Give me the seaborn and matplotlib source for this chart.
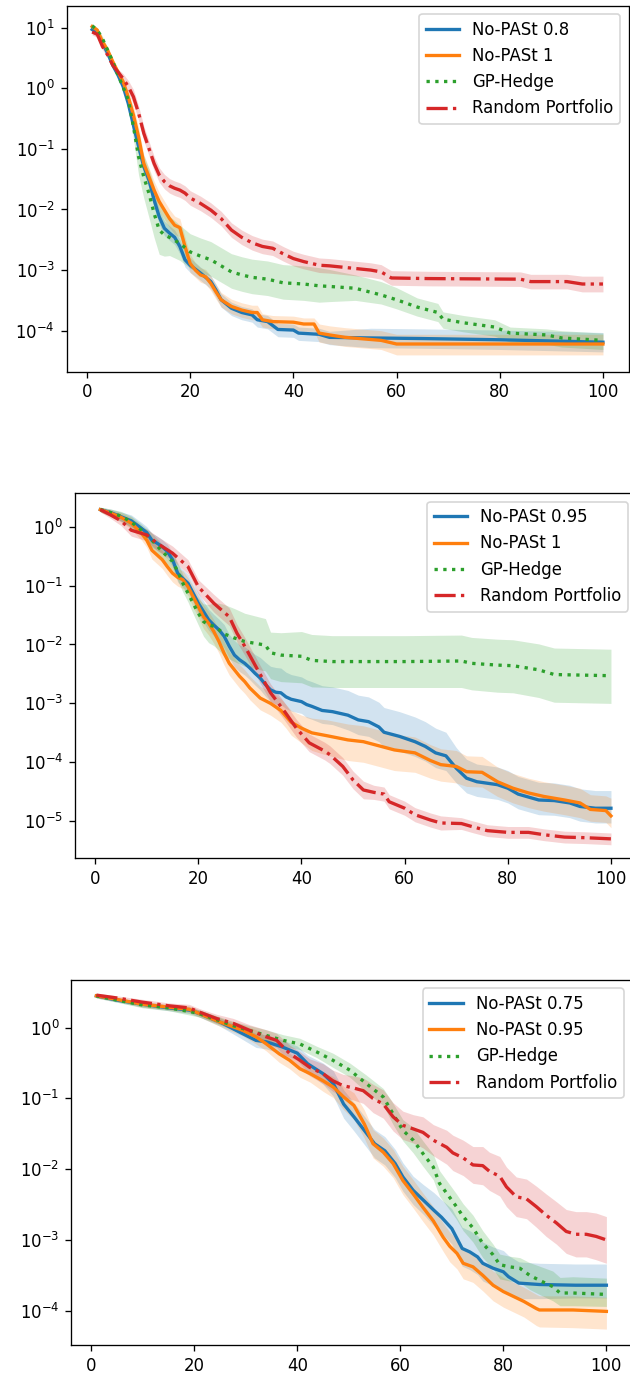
import numpy as np
import matplotlib
matplotlib.use("Agg")
import matplotlib.pyplot as plt
import seaborn as sns
from matplotlib.ticker import NullLocator

# ---------------- data (log10 of the metric) -------------
# Panel 1
p1_blue_x = [1,2,3,4,5,6,7,8,9,10, 11,12,13,14,15,16,17,18,19,20,
             22,24,25,26,28,30,32,33,35,37, 40,41,45,47, 55,65,80,90,100]
p1_blue_y = [0.97,0.91,0.74,0.58,0.38,0.22,0.03,-0.25,-0.61,-0.96,
             -1.29,-1.51,-1.84,-2.12,-2.31,-2.39,-2.46,-2.61,-2.83,-2.92,
             -3.05,-3.19,-3.33,-3.49,-3.63,-3.70,-3.74,-3.82,-3.85,-3.98,
             -3.99,-4.04,-4.06,-4.11, -4.12,-4.13,-4.15,-4.17,-4.19]
p1_blue_dn = [0.04,0.04,0.04,0.04,0.04,0.04,0.04,0.04,0.12,0.12,
              0.12,0.12,0.12,0.12,0.12,0.12,0.12,0.12,0.12,0.12,
              0.12,0.12,0.12,0.12,0.12,0.12,0.12,0.12,0.12,0.12,
              0.12,0.12,0.12,0.12, 0.16,0.16,0.16,0.16,0.16]
p1_blue_up = [0.04,0.04,0.04,0.04,0.04,0.04,0.04,0.04,0.12,0.12,
              0.12,0.12,0.12,0.12,0.12,0.12,0.12,0.12,0.12,0.12,
              0.10,0.10,0.10,0.10,0.10,0.10,0.10,0.10,0.10,0.10,
              0.10,0.10,0.10,0.10, 0.16,0.16,0.16,0.16,0.16]

p1_orange_x = [1,2,3,4,5,6,7,8,9,10, 11,12,13,14,15,16,17,18,19,20,
               21,22,23,24,25,26,28,30,32,33, 34,36,40,42,44,45,47,50,57,60,
               80,100]
p1_orange_y = [1.02,0.96,0.77,0.63,0.44,0.27,0.11,-0.14,-0.44,-0.80,
               -1.24,-1.46,-1.68,-1.87,-2.01,-2.15,-2.26,-2.30,-2.61,-2.89,
               -3.00,-3.08,-3.11,-3.22,-3.36,-3.49,-3.60,-3.66,-3.70,-3.70,
               -3.82,-3.85,-3.86,-3.89,-3.89,-4.04,-4.07,-4.11,-4.16,-4.22,
               -4.22,-4.22]
p1_orange_dn = [0.04,0.04,0.04,0.04,0.04,0.04,0.04,0.04,0.15,0.15,
                0.15,0.15,0.15,0.15,0.15,0.15,0.15,0.15,0.15,0.15,
                0.12,0.12,0.12,0.12,0.12,0.12,0.12,0.12,0.12,0.12,
                0.12,0.12,0.12,0.12,0.12,0.15,0.15,0.15,0.15,0.18,
                0.18,0.18]
p1_orange_up = [0.04,0.04,0.04,0.04,0.04,0.04,0.04,0.04,0.15,0.15,
                0.15,0.15,0.15,0.15,0.15,0.15,0.15,0.15,0.15,0.15,
                0.12,0.12,0.12,0.12,0.12,0.12,0.12,0.12,0.12,0.12,
                0.10,0.10,0.10,0.10,0.10,0.15,0.15,0.16,0.16,0.16,
                0.16,0.16]

p1_green_x = [1,2,3,4,5,6,7,8,9,10, 11,12,13,14,15,16,18,20,22,24,
              26,28,30,32,35,38,40,42,45,47, 52,57,60,64,68,69,73,79,82,89,
              92,100]
p1_green_y = [1.03,0.96,0.82,0.63,0.44,0.22,0.02,-0.19,-0.63,-1.13,
              -1.46,-1.73,-2.06,-2.34,-2.42,-2.46,-2.56,-2.70,-2.77,-2.83,
              -2.93,-3.03,-3.08,-3.12,-3.15,-3.21,-3.22,-3.23,-3.26,-3.27,
              -3.30,-3.41,-3.49,-3.61,-3.70,-3.81,-3.87,-3.94,-4.04,-4.07,
              -4.12,-4.16]
p1_green_dn = [0.04,0.04,0.04,0.04,0.04,0.04,0.04,0.04,0.20,0.30,
               0.35,0.40,0.40,0.40,0.35,0.30,0.28,0.27,0.27,0.27,
               0.27,0.27,0.27,0.27,0.27,0.27,0.27,0.27,0.27,0.25,
               0.20,0.15,0.15,0.15,0.15,0.15,0.15,0.15,0.15,0.15,
               0.15,0.15]
p1_green_up = [0.04,0.04,0.04,0.04,0.04,0.04,0.04,0.04,0.20,0.30,
               0.35,0.40,0.45,0.45,0.40,0.35,0.30,0.30,0.30,0.30,
               0.30,0.30,0.30,0.30,0.30,0.30,0.30,0.30,0.30,0.28,
               0.22,0.22,0.20,0.15,0.15,0.12,0.12,0.12,0.10,0.10,
               0.12,0.12]

p1_red_x = [1,2,3,4,5,6,7,8,9,10, 11,12,13,14,15,16,17,18,19,20,
            22,24,26,28,30,32,34,36,38,40, 42,45,47,55,57,59,66,84,86,93,
            96,100]
p1_red_y = [0.93,0.89,0.69,0.55,0.38,0.27,0.16,0.03,-0.14,-0.41,
            -0.74,-0.99,-1.24,-1.43,-1.54,-1.61,-1.65,-1.68,-1.73,-1.81,
            -1.90,-2.01,-2.15,-2.34,-2.46,-2.55,-2.61,-2.64,-2.73,-2.81,
            -2.86,-2.92,-2.93,-3.00,-3.03,-3.13,-3.14,-3.15,-3.19,-3.19,
            -3.23,-3.23]
p1_red_band = [0.05,0.05,0.05,0.05,0.05,0.05,0.08,0.10,0.12,0.12,
               0.12,0.12,0.12,0.12,0.12,0.12,0.12,0.12,0.12,0.12,
               0.12,0.12,0.12,0.12,0.12,0.12,0.12,0.12,0.12,0.12,
               0.12,0.12,0.12,0.12,0.12,0.12,0.12,0.12,0.12,0.12,
               0.13,0.13]

# Panel 2
p2_blue_x = [1,3,5,7,9,10,11,12,13,14, 15,16,17,18,19,20,21,22,23,24,
             25,26,27,28,29,30,31,32,33,34, 35,36,37,38,40,41,42,44,46,49,
             51,53,55,56,59,62,64,66,68,70, 72,74,78,80,82,84,86,89,92,94,
             97,100]
p2_blue_y = [0.29,0.24,0.17,0.10,-0.03,-0.10,-0.23,-0.28,-0.34,-0.42,
             -0.56,-0.79,-0.88,-0.96,-1.13,-1.30,-1.44,-1.58,-1.67,-1.75,
             -1.86,-2.03,-2.18,-2.26,-2.32,-2.40,-2.49,-2.57,-2.68,-2.77,
             -2.81,-2.82,-2.89,-2.93,-2.97,-3.02,-3.05,-3.12,-3.14,-3.20,
             -3.28,-3.31,-3.40,-3.49,-3.56,-3.65,-3.73,-3.84,-3.89,-4.10,
             -4.27,-4.33,-4.38,-4.44,-4.54,-4.59,-4.64,-4.65,-4.69,-4.75,
             -4.78,-4.78]
p2_blue_dn = [0.04,0.06,0.08,0.10,0.10,0.10,0.12,0.12,0.12,0.12,
              0.12,0.15,0.15,0.15,0.15,0.18,0.18,0.18,0.18,0.18,
              0.20,0.20,0.20,0.20,0.20,0.20,0.20,0.20,0.20,0.20,
              0.20,0.20,0.20,0.20,0.20,0.22,0.22,0.22,0.22,0.25,
              0.25,0.25,0.25,0.25,0.25,0.25,0.25,0.25,0.25,0.25,
              0.25,0.25,0.25,0.25,0.25,0.25,0.25,0.25,0.25,0.25,
              0.25,0.25]
p2_blue_up = [0.04,0.06,0.08,0.10,0.10,0.10,0.12,0.12,0.12,0.12,
              0.12,0.15,0.15,0.15,0.15,0.18,0.18,0.18,0.18,0.18,
              0.20,0.20,0.25,0.25,0.28,0.30,0.32,0.35,0.38,0.40,
              0.42,0.42,0.42,0.42,0.42,0.42,0.42,0.42,0.42,0.42,
              0.42,0.42,0.42,0.42,0.42,0.42,0.42,0.42,0.40,0.35,
              0.32,0.30,0.30,0.30,0.30,0.30,0.30,0.30,0.30,0.30,
              0.30,0.30]

p2_orange_x = [1,3,5,7,9,10,11,12,13,14, 15,16,17,18,19,20,21,22,23,24,
               25,26,27,28,29,30,32,34,36,37, 38,40,42,45,49,52,55,58,62,65,
               67,70,72,75,78,81,84,87,91,94, 96,99,100]
p2_orange_y = [0.29,0.23,0.16,0.06,-0.11,-0.23,-0.40,-0.48,-0.56,-0.68,
               -0.79,-0.86,-0.90,-1.02,-1.19,-1.36,-1.53,-1.64,-1.78,-1.95,
               -2.15,-2.32,-2.43,-2.54,-2.63,-2.74,-2.91,-3.00,-3.12,-3.22,
               -3.32,-3.42,-3.50,-3.55,-3.62,-3.65,-3.72,-3.79,-3.84,-3.97,
               -4.04,-4.07,-4.16,-4.17,-4.33,-4.44,-4.52,-4.58,-4.64,-4.69,
               -4.80,-4.82,-4.91]
p2_orange_dn = [0.04,0.06,0.08,0.10,0.12,0.12,0.15,0.15,0.15,0.15,
                0.15,0.15,0.15,0.15,0.18,0.18,0.20,0.20,0.20,0.20,
                0.20,0.20,0.20,0.20,0.20,0.20,0.20,0.20,0.20,0.20,
                0.22,0.25,0.30,0.33,0.35,0.35,0.35,0.35,0.33,0.30,
                0.28,0.28,0.25,0.25,0.25,0.25,0.25,0.25,0.25,0.25,
                0.20,0.20,0.20]
p2_orange_up = [0.04,0.06,0.08,0.10,0.12,0.12,0.15,0.15,0.15,0.15,
                0.15,0.15,0.15,0.15,0.18,0.18,0.20,0.20,0.20,0.20,
                0.20,0.20,0.20,0.20,0.20,0.20,0.20,0.20,0.20,0.20,
                0.20,0.22,0.25,0.27,0.27,0.27,0.27,0.27,0.27,0.27,
                0.27,0.27,0.27,0.27,0.25,0.25,0.25,0.25,0.25,0.25,
                0.25,0.25,0.30]

p2_green_x = [1,3,5,7,9,11,13,15,16,17, 18,19,20,21,22,23,24,25,27,29,
              33,34,36,40,42,46,60,71,73,78, 81,86,89,100]
p2_green_y = [0.29,0.24,0.18,0.08,-0.06,-0.23,-0.42,-0.59,-0.76,-0.96,
              -1.13,-1.30,-1.47,-1.61,-1.67,-1.69,-1.75,-1.82,-1.89,-1.95,
              -2.01,-2.14,-2.18,-2.20,-2.27,-2.29,-2.29,-2.28,-2.32,-2.35,
              -2.36,-2.43,-2.51,-2.53]
p2_green_dn = [0.04,0.06,0.08,0.10,0.10,0.12,0.12,0.15,0.15,0.15,
               0.15,0.18,0.20,0.25,0.30,0.33,0.35,0.38,0.40,0.42,
               0.44,0.44,0.45,0.45,0.45,0.44,0.44,0.45,0.45,0.46,
               0.46,0.47,0.47,0.47]
p2_green_up = [0.04,0.06,0.08,0.10,0.10,0.12,0.12,0.15,0.15,0.15,
               0.15,0.18,0.25,0.30,0.35,0.40,0.45,0.50,0.50,0.48,
               0.45,0.35,0.38,0.42,0.44,0.44,0.44,0.44,0.44,0.44,
               0.44,0.44,0.45,0.45]

p2_red_x = [1,3,5,7,10,12,15,18,20,23, 26,27.5,29,31.5,34,36.5,39,41.5,44.5,45.5,
            48,50,52,54,56,57,60,62,65,67, 71,73,76,80,84,87,91,95,100]
p2_red_y = [0.29,0.20,0.10,-0.06,-0.14,-0.28,-0.45,-0.68,-1.02,-1.30,
            -1.53,-1.81,-2.03,-2.43,-2.82,-3.11,-3.42,-3.67,-3.81,-3.87,
            -4.07,-4.30,-4.47,-4.51,-4.54,-4.67,-4.78,-4.89,-4.98,-5.03,
            -5.04,-5.09,-5.16,-5.19,-5.19,-5.23,-5.27,-5.28,-5.30]
p2_red_band = [0.04,0.06,0.08,0.10,0.10,0.12,0.12,0.12,0.12,0.15,
               0.15,0.15,0.15,0.15,0.15,0.15,0.15,0.15,0.15,0.15,
               0.15,0.15,0.15,0.12,0.12,0.12,0.12,0.12,0.12,0.12,
               0.10,0.10,0.10,0.10,0.10,0.10,0.10,0.10,0.10]

# Panel 3
p3_blue_x = [1,5,10,15,19,21,25,29,32,34, 37,40,42,45,47,49,51,53,55,57,
             59,60.5,62.5,64.5,66.5,68,70,72,73.5,75, 76,78,80,81,83,87,94,100]
p3_blue_y = [0.45,0.39,0.33,0.28,0.25,0.20,0.08,-0.07,-0.18,-0.20,
             -0.27,-0.36,-0.51,-0.65,-0.79,-1.08,-1.26,-1.45,-1.64,-1.74,
             -1.92,-2.11,-2.30,-2.44,-2.58,-2.68,-2.84,-3.12,-3.17,-3.24,
             -3.33,-3.40,-3.45,-3.52,-3.61,-3.63,-3.64,-3.64]
p3_blue_dn = [0.03,0.03,0.04,0.04,0.05,0.05,0.06,0.08,0.10,0.10,
              0.10,0.10,0.12,0.15,0.18,0.20,0.20,0.20,0.20,0.20,
              0.20,0.20,0.20,0.20,0.22,0.22,0.22,0.25,0.25,0.25,
              0.25,0.25,0.25,0.25,0.22,0.20,0.18,0.18]
p3_blue_up = [0.03,0.03,0.04,0.04,0.05,0.05,0.06,0.08,0.10,0.10,
              0.10,0.10,0.12,0.15,0.18,0.20,0.20,0.20,0.20,0.20,
              0.20,0.20,0.20,0.22,0.25,0.25,0.28,0.30,0.30,0.30,
              0.30,0.30,0.30,0.30,0.30,0.30,0.30,0.30]

p3_orange_x = [1,5,10,15,19,21,25,29.5,32,34, 36.5,38.5,40.5,42.5,45,47,49,51,53,54.7,
               56.7,58.6,60.5,62.5,64.4,66.4,68.3,69.6,71,72.2,
               74.1,76,78,80,82,84,86.4,87,93.5,100]
p3_orange_y = [0.45,0.40,0.33,0.29,0.26,0.20,0.08,-0.04,-0.13,-0.23,
               -0.37,-0.46,-0.58,-0.65,-0.75,-0.84,-0.98,-1.10,-1.36,-1.64,
               -1.76,-1.92,-2.16,-2.35,-2.54,-2.73,-2.96,-3.09,-3.19,-3.33,
               -3.38,-3.50,-3.64,-3.73,-3.80,-3.87,-3.97,-3.99,-3.99,-4.01]
p3_orange_dn = [0.03,0.03,0.04,0.04,0.05,0.05,0.06,0.08,0.10,0.10,
                0.12,0.12,0.12,0.12,0.15,0.15,0.18,0.20,0.20,0.20,
                0.20,0.20,0.20,0.20,0.20,0.20,0.20,0.22,0.22,0.22,
                0.22,0.22,0.22,0.22,0.22,0.22,0.24,0.24,0.25,0.25]
p3_orange_up = [0.03,0.03,0.04,0.04,0.05,0.05,0.06,0.08,0.10,0.10,
                0.10,0.10,0.10,0.12,0.12,0.15,0.15,0.18,0.20,0.20,
                0.20,0.20,0.20,0.20,0.20,0.20,0.20,0.20,0.20,0.20,
                0.20,0.20,0.20,0.20,0.20,0.20,0.20,0.20,0.20,0.20]

p3_green_x = [1,5,10,15,19,21,27.5,34,37.3,40.5, 43.7,46.9,50.2,53.4,56.7,58.6,60.5,62.5,64.4,66.4,
              67.6,69.6,70.9,72.2,74.1,76,78,79.3,81.2,83.2, 85.1,87,89.6,91,93.5,100]
p3_green_y = [0.45,0.39,0.32,0.28,0.23,0.20,0.03,-0.11,-0.18,-0.23,
              -0.34,-0.46,-0.60,-0.79,-0.98,-1.22,-1.45,-1.59,-1.78,-1.97,
              -2.20,-2.40,-2.53,-2.67,-2.83,-3.05,-3.21,-3.35,-3.38,-3.40,
              -3.50,-3.57,-3.66,-3.75,-3.75,-3.77]
p3_green_dn = [0.03,0.03,0.04,0.04,0.05,0.05,0.06,0.08,0.08,0.08,
               0.08,0.10,0.10,0.12,0.12,0.15,0.15,0.18,0.18,0.18,
               0.18,0.18,0.18,0.20,0.20,0.20,0.20,0.20,0.20,0.20,
               0.20,0.20,0.20,0.18,0.18,0.17]
p3_green_up = [0.03,0.03,0.04,0.04,0.05,0.05,0.06,0.08,0.08,0.08,
               0.08,0.10,0.10,0.12,0.12,0.15,0.15,0.18,0.18,0.18,
               0.18,0.18,0.18,0.18,0.18,0.18,0.15,0.15,0.15,0.15,
               0.18,0.20,0.22,0.22,0.23,0.23]

p3_red_x = [1,5,10,15,19,21,24.3,27.6,30.8,34, 36,38.6,40.5,42.4,45,46.9,48.9,50.8,52.8,54.7,
            56.7,58.6,60.5,62.5,64.4,66.4,69,70.2,72.2,74.1, 76,77.3,79.3,80.6,82.5,84.5,86.4,88.3,90.3,92.2,
            94.1,96.1,98,100]
p3_red_y = [0.46,0.42,0.36,0.31,0.28,0.22,0.13,0.06,-0.04,-0.13,
            -0.18,-0.37,-0.46,-0.56,-0.65,-0.75,-0.82,-0.85,-0.89,-1.00,
            -1.08,-1.26,-1.38,-1.43,-1.48,-1.59,-1.69,-1.77,-1.84,-1.94,
            -1.95,-2.03,-2.10,-2.25,-2.39,-2.42,-2.53,-2.65,-2.76,-2.88,
            -2.92,-2.92,-2.95,-3.00]
p3_red_band = [0.03,0.03,0.04,0.04,0.05,0.05,0.06,0.07,0.08,0.10,
               0.10,0.12,0.12,0.12,0.14,0.15,0.16,0.17,0.18,0.20,
               0.20,0.20,0.20,0.20,0.22,0.22,0.24,0.25,0.25,0.26,
               0.27,0.27,0.28,0.28,0.28,0.28,0.29,0.30,0.30,0.31,
               0.32,0.32,0.33,0.33]

labels_p1 = ["No-PASt 0.8", "No-PASt 1", "GP-Hedge", "Random Portfolio"]
labels_p2 = ["No-PASt 0.95", "No-PASt 1", "GP-Hedge", "Random Portfolio"]
labels_p3 = ["No-PASt 0.75", "No-PASt 0.95", "GP-Hedge", "Random Portfolio"]
ylim_log10 = [(-4.677, 1.363), (-5.63, 0.567), (-4.485, 0.674)]

# ---------------- styling -------------
colors = sns.color_palette("tab10")[:4]
styles = ["-", "-", ":", "-."]

DPI = 119
fig = plt.figure(figsize=(630 / DPI, 1373 / DPI), dpi=DPI)
W, H = 630.0, 1373.0
# axes rectangles in pixels: (left, right, top, bottom)
rects = [(66.6, 628.5, 5.7, 371.7), (74.8, 636.5, 493.3, 858.3), (70.85, 631.9, 980.0, 1345.0)]

panels = [
    (labels_p1, [(p1_blue_x, p1_blue_y, p1_blue_dn, p1_blue_up),
                 (p1_orange_x, p1_orange_y, p1_orange_dn, p1_orange_up),
                 (p1_green_x, p1_green_y, p1_green_dn, p1_green_up),
                 (p1_red_x, p1_red_y, p1_red_band, p1_red_band)]),
    (labels_p2, [(p2_blue_x, p2_blue_y, p2_blue_dn, p2_blue_up),
                 (p2_orange_x, p2_orange_y, p2_orange_dn, p2_orange_up),
                 (p2_green_x, p2_green_y, p2_green_dn, p2_green_up),
                 (p2_red_x, p2_red_y, p2_red_band, p2_red_band)]),
    (labels_p3, [(p3_blue_x, p3_blue_y, p3_blue_dn, p3_blue_up),
                 (p3_orange_x, p3_orange_y, p3_orange_dn, p3_orange_up),
                 (p3_green_x, p3_green_y, p3_green_dn, p3_green_up),
                 (p3_red_x, p3_red_y, p3_red_band, p3_red_band)]),
]

for (labels, series), (l, r, t, b), ylog in zip(panels, rects, ylim_log10):
    ax = fig.add_axes([l / W, 1 - b / H, (r - l) / W, (b - t) / H])
    ax.set_yscale("log")
    for (xs, ys, dn, up), lab, c, ls in zip(series, labels, colors, styles):
        xs = np.asarray(xs, float)
        ys = np.asarray(ys, float)
        dn = np.asarray(dn, float)
        up = np.asarray(up, float)
        assert len(xs) == len(ys) == len(dn) == len(up), (lab, len(xs), len(ys), len(dn), len(up))
        ax.fill_between(xs, 10 ** (ys - dn), 10 ** (ys + up), color=c, alpha=0.2, linewidth=0)
        sns.lineplot(x=xs, y=10 ** ys, ax=ax, color=c, linestyle=ls, linewidth=2,
                     label=lab, errorbar=None, sort=False)
    ax.set_xlim(-3.95, 104.95)
    ax.set_ylim(10 ** ylog[0], 10 ** ylog[1])
    ax.yaxis.set_minor_locator(NullLocator())
    ax.set_xticks([0, 20, 40, 60, 80, 100])
    ax.legend(loc="upper right")

fig.savefig("out.png", dpi=DPI)
